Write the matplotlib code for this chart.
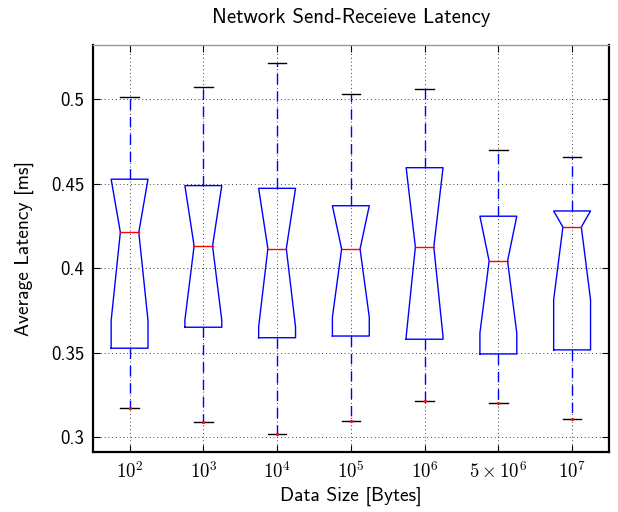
import numpy as np
import matplotlib
matplotlib.use('Agg')
import matplotlib.pyplot as plt

# ---- data ----
labels = [r'$10^2$', r'$10^3$', r'$10^4$', r'$10^5$', r'$10^6$', r'$5\times10^6$', r'$10^7$']
whisker_hi = [0.5012, 0.5073, 0.5213, 0.5033, 0.5061, 0.4700, 0.4660]
q3 = [0.4527, 0.4489, 0.4473, 0.4370, 0.4595, 0.4308, 0.4339]
median = [0.4213, 0.4132, 0.4116, 0.4114, 0.4126, 0.4043, 0.4244]
q1 = [0.3527, 0.3651, 0.3589, 0.3599, 0.3580, 0.3493, 0.3517]
whisker_lo = [0.3175, 0.3090, 0.3020, 0.3098, 0.3215, 0.3201, 0.3107]
n_samples = 9
yticks = [0.3, 0.35, 0.4, 0.45, 0.5]
ytick_labels = ['0.3', '0.35', '0.4', '0.45', '0.5']

plt.rcParams['font.family'] = ['cmss10', 'DejaVu Sans']
plt.rcParams['mathtext.fontset'] = 'cm'
plt.rcParams['axes.formatter.use_mathtext'] = True

fig = plt.figure(figsize=(6.18, 5.12), dpi=100)
ax = fig.add_axes([0.150, 0.1166, 0.8354, 0.7955])

hw = 0.25
cap = 0.125
positions = np.arange(1, len(labels) + 1)
for p, wh, a3, m, a1, wl in zip(positions, whisker_hi, q3, median, q1, whisker_lo):
    c = 1.57 * (a3 - a1) / np.sqrt(n_samples)
    nlo = max(m - c, a1)
    nhi = min(m + c, a3)
    xs = [p - hw, p - hw, p - hw / 2, p - hw, p - hw, p + hw, p + hw, p + hw / 2, p + hw, p + hw, p - hw]
    ys = [a1, nlo, m, nhi, a3, a3, nhi, m, nlo, a1, a1]
    ax.plot(xs, ys, color='blue', lw=1.0, zorder=3)
    ax.plot([p - hw / 2, p + hw / 2], [m, m], color='red', lw=1.0, zorder=4)
    ax.plot([p, p], [a3, wh], color='blue', lw=1.0, dashes=(7.5, 5), zorder=3)
    ax.plot([p, p], [a1, wl], color='blue', lw=1.0, dashes=(7.5, 5), zorder=3)
    ax.plot([p - cap, p + cap], [wh, wh], color='black', lw=1.0, zorder=4)
    ax.plot([p - cap, p + cap], [wl, wl], color='black', lw=1.0, zorder=4)
    ax.plot([p], [wl], marker='.', color='red', ms=2.5, zorder=5)

ax.set_xlim(0.5, 7.5)
ax.set_ylim(0.2911, 0.5321)
ax.set_xticks(positions)
ax.set_xticklabels(labels, fontsize=13.5)
ax.set_yticks(yticks)
ax.set_yticklabels(ytick_labels, fontsize=13.5)
ax.grid(True, color='black', lw=0.6, linestyle=(0, (1, 3.5)))
ax.set_axisbelow(True)
ax.tick_params(direction='in', top=True, right=True, length=5, width=0.8, pad=6)
for s in ['left', 'right', 'bottom']:
    ax.spines[s].set_linewidth(1.6)
ax.spines['top'].set_linewidth(1.0)
ax.spines['top'].set_color('0.6')

ax.set_title('Network Send-Receieve Latency', fontsize=15, pad=16)
ax.set_xlabel('Data Size [Bytes]', fontsize=14, labelpad=4)
ax.set_ylabel('Average Latency [ms]', fontsize=14, labelpad=12)

fig.savefig('out.png', dpi=100)
